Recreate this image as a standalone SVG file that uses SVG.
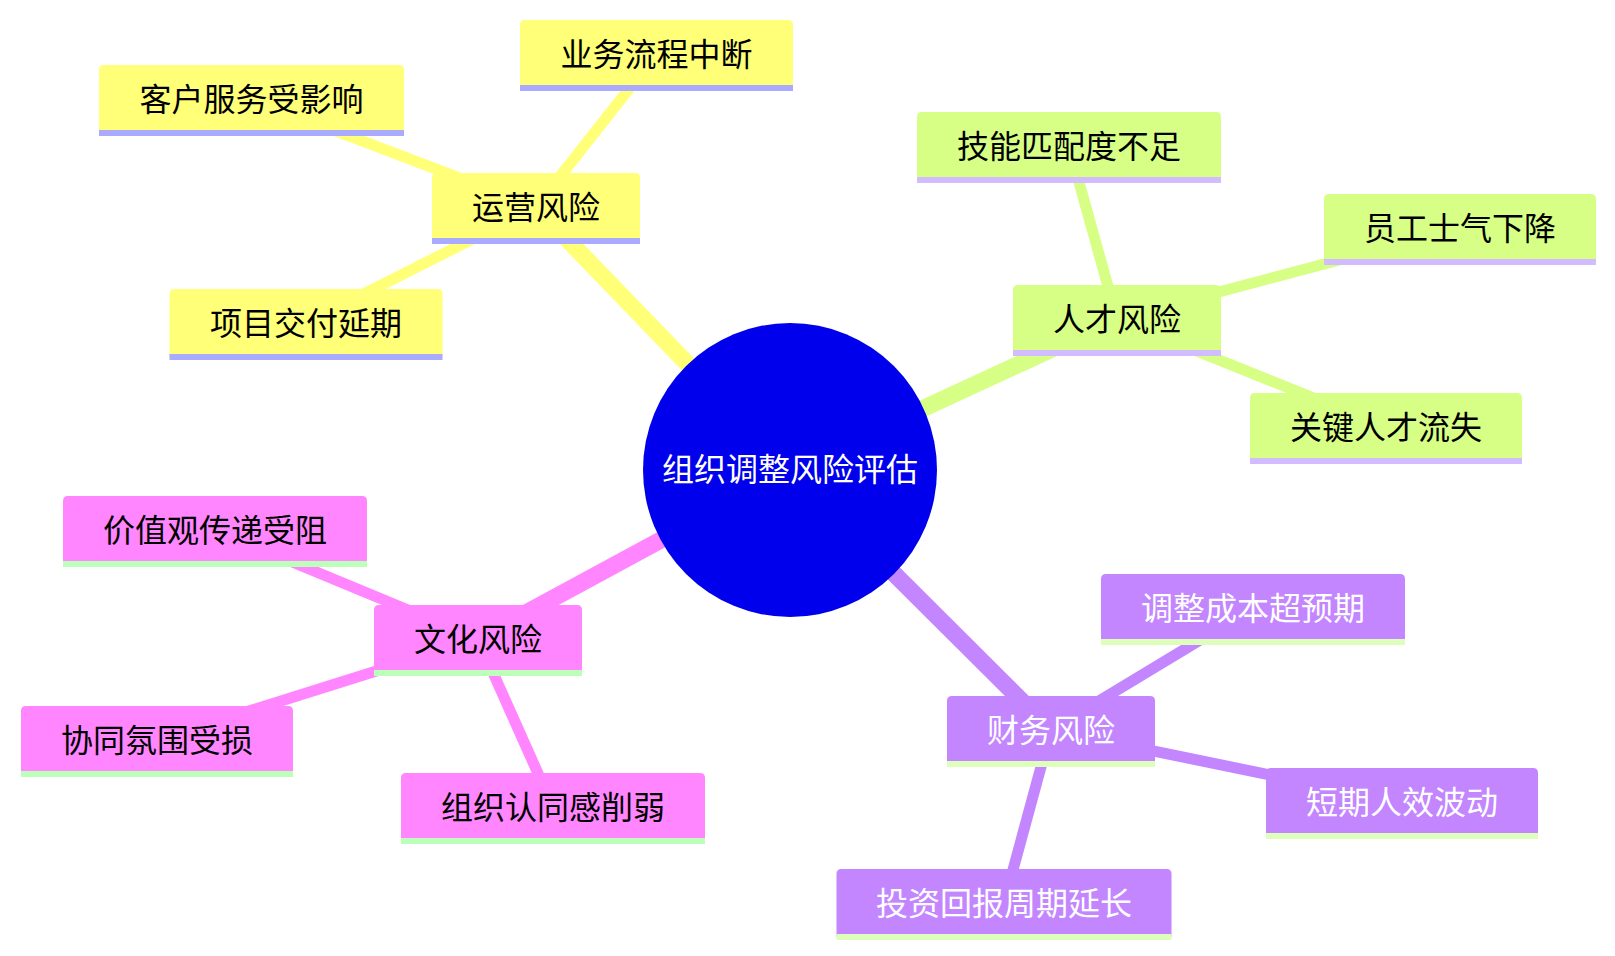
<svg xmlns="http://www.w3.org/2000/svg" width="1615" height="956" viewBox="0 0 1615 956">
<style>
  .t { font-family: "Noto Sans CJK SC", "Noto Sans", sans-serif; font-size: 32px; text-anchor: middle; }
  .dark { fill: #000000; }
  .light { fill: #ffffff; }
  .e { fill: none; stroke-linecap: butt; }
  .e0 { stroke-width: 17; }
  .e1 { stroke-width: 11; }
  .s0 { fill: #ffff78; } .s0e { stroke: #ffff78; } .s0l { stroke: #aaaaff; stroke-width: 6; }
  .s1 { fill: #d7ff86; } .s1e { stroke: #d7ff86; } .s1l { stroke: #d2bbff; stroke-width: 6; }
  .s2 { fill: #ff86ff; } .s2e { stroke: #ff86ff; } .s2l { stroke: #bbffbb; stroke-width: 6; }
  .s3 { fill: #c386ff; } .s3e { stroke: #c386ff; } .s3l { stroke: #ddffbb; stroke-width: 6; }
</style>
<rect width="1615" height="956" fill="#ffffff"/>
<g id="connectors">
  <line class="e e0 s0e" x1="790" y1="470" x2="536" y2="207"/>
  <line class="e e1 s0e" x1="536" y1="207" x2="656.5" y2="54"/>
  <line class="e e1 s0e" x1="536" y1="207" x2="251.5" y2="99"/>
  <line class="e e1 s0e" x1="536" y1="207" x2="306" y2="323"/>
  <line class="e e0 s1e" x1="790" y1="470" x2="1117" y2="319"/>
  <line class="e e1 s1e" x1="1117" y1="319" x2="1069" y2="146"/>
  <line class="e e1 s1e" x1="1117" y1="319" x2="1460" y2="228"/>
  <line class="e e1 s1e" x1="1117" y1="319" x2="1386" y2="427"/>
  <line class="e e0 s2e" x1="790" y1="470" x2="478" y2="639"/>
  <line class="e e1 s2e" x1="478" y1="639" x2="215" y2="530"/>
  <line class="e e1 s2e" x1="478" y1="639" x2="157" y2="740"/>
  <line class="e e1 s2e" x1="478" y1="639" x2="553" y2="807"/>
  <line class="e e0 s3e" x1="790" y1="470" x2="1051" y2="730"/>
  <line class="e e1 s3e" x1="1051" y1="730" x2="1253" y2="608"/>
  <line class="e e1 s3e" x1="1051" y1="730" x2="1402" y2="802"/>
  <line class="e e1 s3e" x1="1051" y1="730" x2="1004" y2="903"/>
</g>
<g id="root">
  <circle cx="790" cy="470" r="147" fill="#0000ec"/>
  <text class="t light" x="790" y="481">组织调整风险评估</text>
</g>
<g id="n-yunying" transform="translate(432,173)">
  <path class="s0" d="M0 63 v-58 q0,-5 5,-5 h198 q5,0 5,5 v63 H0 Z"/>
  <line class="s0l" x1="0" y1="68" x2="208" y2="68"/>
  <text class="t dark" x="104" y="46">运营风险</text>
</g>
<g id="n-yewu" transform="translate(520,20)">
  <path class="s0" d="M0 63 v-58 q0,-5 5,-5 h263 q5,0 5,5 v63 H0 Z"/>
  <line class="s0l" x1="0" y1="68" x2="273" y2="68"/>
  <text class="t dark" x="136.5" y="46">业务流程中断</text>
</g>
<g id="n-kehu" transform="translate(99,65)">
  <path class="s0" d="M0 63 v-58 q0,-5 5,-5 h295 q5,0 5,5 v63 H0 Z"/>
  <line class="s0l" x1="0" y1="68" x2="305" y2="68"/>
  <text class="t dark" x="152.5" y="46">客户服务受影响</text>
</g>
<g id="n-xiangmu" transform="translate(169.5,289)">
  <path class="s0" d="M0 63 v-58 q0,-5 5,-5 h263 q5,0 5,5 v63 H0 Z"/>
  <line class="s0l" x1="0" y1="68" x2="273" y2="68"/>
  <text class="t dark" x="136.5" y="46">项目交付延期</text>
</g>
<g id="n-rencai" transform="translate(1013,285)">
  <path class="s1" d="M0 63 v-58 q0,-5 5,-5 h198 q5,0 5,5 v63 H0 Z"/>
  <line class="s1l" x1="0" y1="68" x2="208" y2="68"/>
  <text class="t dark" x="104" y="46">人才风险</text>
</g>
<g id="n-jineng" transform="translate(917,112)">
  <path class="s1" d="M0 63 v-58 q0,-5 5,-5 h294 q5,0 5,5 v63 H0 Z"/>
  <line class="s1l" x1="0" y1="68" x2="304" y2="68"/>
  <text class="t dark" x="152" y="46">技能匹配度不足</text>
</g>
<g id="n-yuangong" transform="translate(1324,194)">
  <path class="s1" d="M0 63 v-58 q0,-5 5,-5 h262 q5,0 5,5 v63 H0 Z"/>
  <line class="s1l" x1="0" y1="68" x2="272" y2="68"/>
  <text class="t dark" x="136" y="46">员工士气下降</text>
</g>
<g id="n-guanjian" transform="translate(1250,393)">
  <path class="s1" d="M0 63 v-58 q0,-5 5,-5 h262 q5,0 5,5 v63 H0 Z"/>
  <line class="s1l" x1="0" y1="68" x2="272" y2="68"/>
  <text class="t dark" x="136" y="46">关键人才流失</text>
</g>
<g id="n-wenhua" transform="translate(374,605)">
  <path class="s2" d="M0 63 v-58 q0,-5 5,-5 h198 q5,0 5,5 v63 H0 Z"/>
  <line class="s2l" x1="0" y1="68" x2="208" y2="68"/>
  <text class="t dark" x="104" y="46">文化风险</text>
</g>
<g id="n-jiazhi" transform="translate(63,496)">
  <path class="s2" d="M0 63 v-58 q0,-5 5,-5 h294 q5,0 5,5 v63 H0 Z"/>
  <line class="s2l" x1="0" y1="68" x2="304" y2="68"/>
  <text class="t dark" x="152" y="46">价值观传递受阻</text>
</g>
<g id="n-xietong" transform="translate(21,706)">
  <path class="s2" d="M0 63 v-58 q0,-5 5,-5 h262 q5,0 5,5 v63 H0 Z"/>
  <line class="s2l" x1="0" y1="68" x2="272" y2="68"/>
  <text class="t dark" x="136" y="46">协同氛围受损</text>
</g>
<g id="n-zuzhi" transform="translate(401,773)">
  <path class="s2" d="M0 63 v-58 q0,-5 5,-5 h294 q5,0 5,5 v63 H0 Z"/>
  <line class="s2l" x1="0" y1="68" x2="304" y2="68"/>
  <text class="t dark" x="152" y="46">组织认同感削弱</text>
</g>
<g id="n-caiwu" transform="translate(947,696)">
  <path class="s3" d="M0 63 v-58 q0,-5 5,-5 h198 q5,0 5,5 v63 H0 Z"/>
  <line class="s3l" x1="0" y1="68" x2="208" y2="68"/>
  <text class="t light" x="104" y="46">财务风险</text>
</g>
<g id="n-tiaozheng" transform="translate(1101,574)">
  <path class="s3" d="M0 63 v-58 q0,-5 5,-5 h294 q5,0 5,5 v63 H0 Z"/>
  <line class="s3l" x1="0" y1="68" x2="304" y2="68"/>
  <text class="t light" x="152" y="46">调整成本超预期</text>
</g>
<g id="n-duanqi" transform="translate(1266,768)">
  <path class="s3" d="M0 63 v-58 q0,-5 5,-5 h262 q5,0 5,5 v63 H0 Z"/>
  <line class="s3l" x1="0" y1="68" x2="272" y2="68"/>
  <text class="t light" x="136" y="46">短期人效波动</text>
</g>
<g id="n-touzi" transform="translate(836.5,869)">
  <path class="s3" d="M0 63 v-58 q0,-5 5,-5 h325 q5,0 5,5 v63 H0 Z"/>
  <line class="s3l" x1="0" y1="68" x2="335" y2="68"/>
  <text class="t light" x="167.5" y="46">投资回报周期延长</text>
</g>
</svg>
